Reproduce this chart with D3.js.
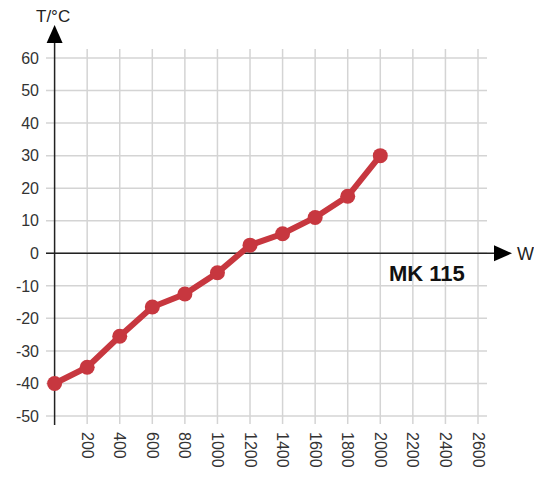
<!DOCTYPE html>
<html>
<head>
<meta charset="utf-8">
<script src="https://cdn.jsdelivr.net/npm/d3@7"></script>
<style>
body { margin: 0; background: #fff; }
text { font-family: "Liberation Sans", Arial, sans-serif; }
</style>
</head>
<body>
<div id="chart"></div>
<script>
var power = [0, 200, 400, 600, 800, 1000, 1200, 1400, 1600, 1800, 2000];
var temp = [-40, -35, -25.5, -16.5, -12.5, -6, 2.5, 6, 11, 17.5, 30];
var xTicks = [200, 400, 600, 800, 1000, 1200, 1400, 1600, 1800, 2000, 2200, 2400, 2600];
var yTicks = [60, 50, 40, 30, 20, 10, 0, -10, -20, -30, -40, -50];

var w = 534, h = 477;
var lineCOLOR = "#c7373f", gridCOLOR = "#d4d4d4", axisCOLOR = "#222";

var svg = d3.select("#chart").append("svg").attr("width", w).attr("height", h);

var x = d3.scaleLinear().domain([0, 2600]).range([54.6, 478]);
var y = d3.scaleLinear().domain([-50, 60]).range([416, 58]);

// grid
svg.append("g").selectAll("line").data(yTicks).enter().append("line")
  .attr("x1", 46).attr("x2", 487)
  .attr("y1", function(d) { return y(d); }).attr("y2", function(d) { return y(d); })
  .attr("stroke", gridCOLOR).attr("stroke-width", 1.5);
svg.append("g").selectAll("line").data(xTicks).enter().append("line")
  .attr("x1", function(d) { return x(d); }).attr("x2", function(d) { return x(d); })
  .attr("y1", 49).attr("y2", 424)
  .attr("stroke", gridCOLOR).attr("stroke-width", 1.5);

// axes with arrows
svg.append("line").attr("x1", x(0)).attr("x2", x(0)).attr("y1", 40).attr("y2", 425)
  .attr("stroke", axisCOLOR).attr("stroke-width", 1.5);
svg.append("polygon").attr("points", [[x(0), 25], [x(0) - 8, 43], [x(0) + 8, 43]].join(" "))
  .attr("fill", "#000");
svg.append("line").attr("x1", 46).attr("x2", 496).attr("y1", y(0)).attr("y2", y(0))
  .attr("stroke", axisCOLOR).attr("stroke-width", 1.5);
svg.append("polygon").attr("points", [[512, y(0)], [494, y(0) - 8], [494, y(0) + 8]].join(" "))
  .attr("fill", "#000");

// tick labels
svg.append("g").selectAll("text").data(yTicks).enter().append("text")
  .attr("x", 39).attr("y", function(d) { return y(d); }).attr("dy", "0.36em")
  .attr("text-anchor", "end").attr("font-size", 16).attr("fill", "#333")
  .text(function(d) { return d; });
svg.append("g").selectAll("text").data(xTicks).enter().append("text")
  .attr("transform", function(d) { return "translate(" + (x(d) - 5.5) + ",432) rotate(90)"; })
  .attr("text-anchor", "start").attr("font-size", 16).attr("fill", "#333")
  .text(function(d) { return d; });

// axis titles
svg.append("text").attr("x", 36).attr("y", 22).attr("font-size", 17).attr("fill", "#222").text("T/°C");
svg.append("text").attr("x", 517).attr("y", y(0) + 7).attr("font-size", 18).attr("fill", "#222").text("W");
svg.append("text").attr("x", 389).attr("y", 281).attr("font-size", 22).attr("font-weight", "bold")
  .attr("fill", "#111").text("MK 115");

// data line
var pts = power.map(function(p, i) { return [p, temp[i]]; });
svg.append("path").datum(pts)
  .attr("d", d3.line().x(function(d) { return x(d[0]); }).y(function(d) { return y(d[1]); }))
  .attr("fill", "none").attr("stroke", lineCOLOR).attr("stroke-width", 6);
svg.append("g").selectAll("circle").data(pts).enter().append("circle")
  .attr("cx", function(d) { return x(d[0]); }).attr("cy", function(d) { return y(d[1]); })
  .attr("r", 7.5).attr("fill", lineCOLOR);
</script>
</body>
</html>
